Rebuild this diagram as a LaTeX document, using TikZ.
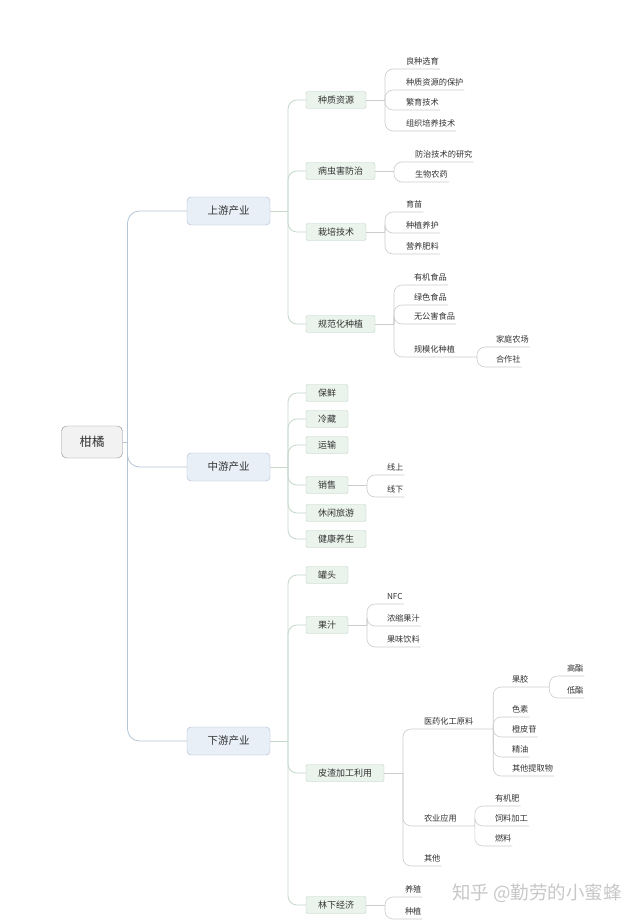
\documentclass[tikz,border=0pt]{standalone}
\usepackage{fontspec}
\setmainfont{Noto Sans CJK SC}

\definecolor{txt}{HTML}{333333}
\definecolor{rootfill}{HTML}{F2F2F2}
\definecolor{rootline}{HTML}{8C8C8C}
\definecolor{mainfill}{HTML}{E9EFF7}
\definecolor{mainline}{HTML}{A9BBD0}
\definecolor{topicfill}{HTML}{EAF3EC}
\definecolor{topicline}{HTML}{BCD3C2}
\definecolor{mainlink}{HTML}{B5C5D5}
\definecolor{topiclink}{HTML}{C5D8CA}
\definecolor{leaflink}{HTML}{CCCCCC}
\definecolor{wmgray}{HTML}{C8C8C8}

\tikzset{
  rootbox/.style={draw=rootline, fill=rootfill, rounded corners=5pt, text=txt,
    minimum width=61pt, minimum height=32pt, font=\fontsize{12.5}{14}\selectfont},
  main/.style={draw=mainline, fill=mainfill, rounded corners=4pt, text=txt,
    minimum width=83pt, minimum height=28pt, font=\fontsize{10.5}{12}\selectfont},
  topic/.style={anchor=west, draw=topicline, fill=topicfill, rounded corners=2pt, text=txt,
    inner xsep=12pt, inner ysep=0pt, minimum height=17pt, font=\fontsize{9}{11}\selectfont},
  leaf/.style={anchor=west, text=txt, inner xsep=1pt, inner ysep=3pt,
    text height=6.5pt, text depth=1.5pt, font=\fontsize{8.2}{10}\selectfont},
  l1link/.style={draw=mainlink, line width=0.8pt, rounded corners=12pt},
  l2link/.style={draw=topiclink, line width=0.8pt, rounded corners=9pt},
  l3link/.style={draw=leaflink, line width=0.6pt, rounded corners=8pt}
}

\begin{document}
\begin{tikzpicture}[x=1pt, y=-1pt, inner sep=0, outer sep=0]
  \fill[white] (0,0) rectangle (640,923);
  \useasboundingbox (0,0) rectangle (640,923);

  % root and the three industries
  \node[rootbox] (citrus) at (92,442) {柑橘};
  \node[main] (up) at (228.5,211) {上游产业};
  \node[main] (mid) at (228.5,467) {中游产业};
  \node[main] (down) at (228.5,741) {下游产业};

  \coordinate (rootfork) at ([xshift=5pt]citrus.east);
  \draw[l1link] (citrus.east) -- (rootfork);
  \draw[l1link] (rootfork) |- (up.west);
  \draw[l1link] (rootfork) |- (mid.west);
  \draw[l1link] (rootfork) |- (down.west);

  % upstream
  \node[topic] (zzzy) at (306,100) {种质资源};
  \node[topic] (bch) at (306,171) {病虫害防治};
  \node[topic] (zpjs) at (306,232) {栽培技术};
  \node[topic] (gfh) at (306,324) {规范化种植};

  \coordinate (upfork) at ([xshift=18pt]up.east);
  \draw[l2link] (up.east) -- (upfork);
  \draw[l2link] (upfork) |- (zzzy.west);
  \draw[l2link] (upfork) |- (bch.west);
  \draw[l2link] (upfork) |- (zpjs.west);
  \draw[l2link] (upfork) |- (gfh.west);

  \node[leaf] (zz1) at (405,62) {良种选育};
  \node[leaf] (zz2) at (405,83) {种质资源的保护};
  \node[leaf] (zz3) at (405,103) {繁育技术};
  \node[leaf] (zz4) at (405,124) {组织培养技术};
  \coordinate (zzfork) at ([xshift=19pt]zzzy.east);
  \draw[l3link] (zzzy.east) -- (zzfork);
  \draw[l3link] (zzfork) |- (zz1.south east);
  \draw[l3link] (zzfork) |- (zz2.south east);
  \draw[l3link] (zzfork) |- (zz3.south east);
  \draw[l3link] (zzfork) |- (zz4.south east);

  \node[leaf] (bc1) at (414,155) {防治技术的研究};
  \node[leaf] (bc2) at (414,175) {生物农药};
  \coordinate (bcfork) at ([xshift=19pt]bch.east);
  \draw[l3link] (bch.east) -- (bcfork);
  \draw[l3link] (bcfork) |- (bc1.south east);
  \draw[l3link] (bcfork) |- (bc2.south east);

  \node[leaf] (zp1) at (405,205) {育苗};
  \node[leaf] (zp2) at (405,226) {种植养护};
  \node[leaf] (zp3) at (405,247) {营养肥料};
  \coordinate (zpfork) at ([xshift=19pt]zpjs.east);
  \draw[l3link] (zpjs.east) -- (zpfork);
  \draw[l3link] (zpfork) |- (zp1.south east);
  \draw[l3link] (zpfork) |- (zp2.south east);
  \draw[l3link] (zpfork) |- (zp3.south east);

  \node[leaf] (gf1) at (413,278) {有机食品};
  \node[leaf] (gf2) at (413,298) {绿色食品};
  \node[leaf] (gf3) at (413,317) {无公害食品};
  \node[leaf] (gf4) at (413,350) {规模化种植};
  \coordinate (gffork) at ([xshift=19pt]gfh.east);
  \coordinate (gmfork) at ([xshift=21pt]gf4.south east);
  \draw[l3link] (gfh.east) -- (gffork);
  \draw[l3link] (gffork) |- (gf1.south east);
  \draw[l3link] (gffork) |- (gf2.south east);
  \draw[l3link] (gffork) |- (gf3.south east);
  \draw[l3link] (gffork) |- (gf4.south east) -- (gmfork);

  \node[leaf] (gm1) at (495,340) {家庭农场};
  \node[leaf] (gm2) at (495,360) {合作社};
  \draw[l3link] (gmfork) |- (gm1.south east);
  \draw[l3link] (gmfork) |- (gm2.south east);

  % midstream
  \node[topic, minimum width=42pt] (bx) at (306,393) {保鲜};
  \node[topic, minimum width=42pt] (lc) at (306,419) {冷藏};
  \node[topic, minimum width=42pt] (ys) at (306,445) {运输};
  \node[topic, minimum width=42pt] (xs) at (306,485) {销售};
  \node[topic] (xx) at (306,513) {休闲旅游};
  \node[topic] (jk) at (306,539) {健康养生};

  \coordinate (midfork) at ([xshift=18pt]mid.east);
  \draw[l2link] (mid.east) -- (midfork);
  \draw[l2link] (midfork) |- (bx.west);
  \draw[l2link] (midfork) |- (lc.west);
  \draw[l2link] (midfork) |- (ys.west);
  \draw[l2link] (midfork) |- (xs.west);
  \draw[l2link] (midfork) |- (xx.west);
  \draw[l2link] (midfork) |- (jk.west);

  \node[leaf] (xs1) at (386,468) {线上};
  \node[leaf] (xs2) at (386,490) {线下};
  \coordinate (xsfork) at ([xshift=19pt]xs.east);
  \draw[l3link] (xs.east) -- (xsfork);
  \draw[l3link] (xsfork) |- (xs1.south east);
  \draw[l3link] (xsfork) |- (xs2.south east);

  % downstream
  \node[topic, minimum width=42pt] (gt) at (306,575) {罐头};
  \node[topic, minimum width=42pt] (gz) at (306,625) {果汁};
  \node[topic] (pz) at (306,773) {皮渣加工利用};
  \node[topic] (lx) at (306,905) {林下经济};

  \coordinate (downfork) at ([xshift=18pt]down.east);
  \draw[l2link] (down.east) -- (downfork);
  \draw[l2link] (downfork) |- (gt.west);
  \draw[l2link] (downfork) |- (gz.west);
  \draw[l2link] (downfork) |- (pz.west);
  \draw[l2link] (downfork) |- (lx.west);

  \node[leaf] (gz1) at (386,597) {NFC};
  \node[leaf] (gz2) at (386,619) {浓缩果汁};
  \node[leaf] (gz3) at (386,640) {果味饮料};
  \coordinate (gzfork) at ([xshift=19pt]gz.east);
  \draw[l3link] (gz.east) -- (gzfork);
  \draw[l3link] (gzfork) |- (gz1.south east);
  \draw[l3link] (gzfork) |- (gz2.south east);
  \draw[l3link] (gzfork) |- (gz3.south east);

  \node[leaf] (yy) at (423,722) {医药化工原料};
  \node[leaf] (ny) at (423,819) {农业应用};
  \node[leaf] (qt) at (423,859) {其他};
  \coordinate (pzfork) at ([xshift=19pt]pz.east);
  \coordinate (yyfork) at ([xshift=19pt]yy.south east);
  \coordinate (nyfork) at ([xshift=17pt]ny.south east);
  \draw[l3link] (pz.east) -- (pzfork);
  \draw[l3link] (pzfork) |- (yy.south east) -- (yyfork);
  \draw[l3link] (pzfork) |- (ny.south east) -- (nyfork);
  \draw[l3link] (pzfork) |- (qt.south east);

  \node[leaf] (yy1) at (511,680) {果胶};
  \node[leaf] (yy2) at (511,710) {色素};
  \node[leaf] (yy3) at (511,730) {橙皮苷};
  \node[leaf] (yy4) at (511,750) {精油};
  \node[leaf] (yy5) at (511,769) {其他提取物};
  \coordinate (gjfork) at ([xshift=20pt]yy1.south east);
  \draw[l3link] (yyfork) |- (yy1.south east) -- (gjfork);
  \draw[l3link] (yyfork) |- (yy2.south east);
  \draw[l3link] (yyfork) |- (yy3.south east);
  \draw[l3link] (yyfork) |- (yy4.south east);
  \draw[l3link] (yyfork) |- (yy5.south east);

  \node[leaf] (gj1) at (566,669) {高酯};
  \node[leaf] (gj2) at (566,691) {低酯};
  \draw[l3link] (gjfork) |- (gj1.south east);
  \draw[l3link] (gjfork) |- (gj2.south east);

  \node[leaf] (ny1) at (494,799) {有机肥};
  \node[leaf] (ny2) at (494,819) {饲料加工};
  \node[leaf] (ny3) at (494,839) {燃料};
  \draw[l3link] (nyfork) |- (ny1.south east);
  \draw[l3link] (nyfork) |- (ny2.south east);
  \draw[l3link] (nyfork) |- (ny3.south east);

  \node[leaf] (lx1) at (404,890) {养殖};
  \node[leaf] (lx2) at (404,912) {种植};
  \coordinate (lxfork) at ([xshift=19pt]lx.east);
  \draw[l3link] (lx.east) -- (lxfork);
  \draw[l3link] (lxfork) |- (lx1.south east);
  \draw[l3link] (lxfork) |- (lx2.south east);

  % watermark
  \node[text=wmgray, font=\fontsize{18.5}{20}\selectfont] (zhihu) at (537,893) {知乎 @勤劳的小蜜蜂};
\end{tikzpicture}
\end{document}
